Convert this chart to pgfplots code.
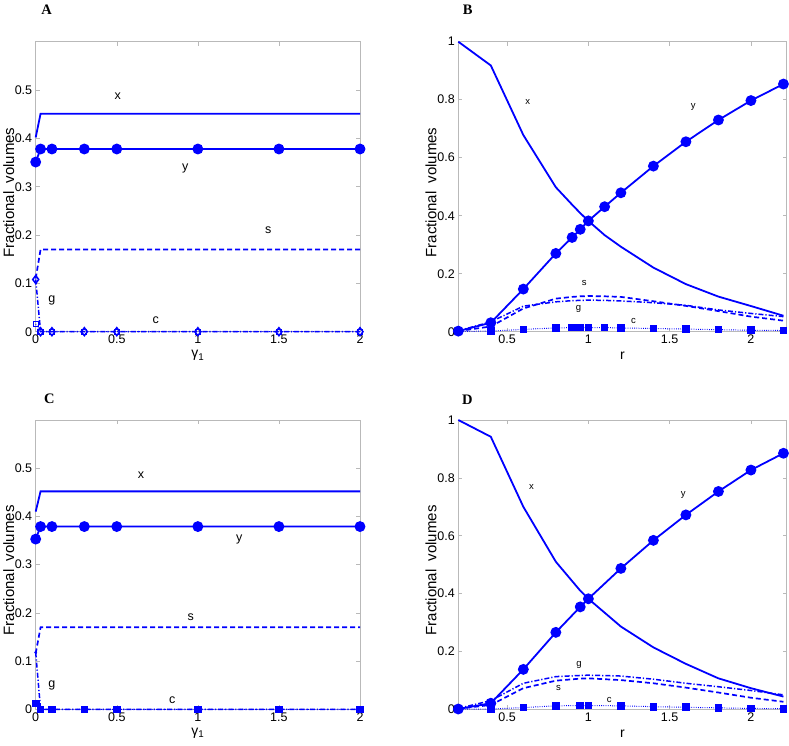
\documentclass[border=0pt]{standalone}
\usepackage{pgfplots}
\pgfplotsset{compat=1.18}
\usepackage{fontspec}
\setmainfont{Liberation Sans}
\newfontfamily\timesfont{Liberation Serif}
\definecolor{mb}{rgb}{0,0,1}
\tikzset{
 lab/.style={font=\fontsize{12.5}{12.5}\selectfont},
 labs/.style={font=\fontsize{9.5}{9.5}\selectfont},
}
\pgfplotsset{
 panel/.style={scale only axis, axis line style={gray!55, line width=0.5pt},
   tick style={gray!55, line width=0.5pt}, major tick length=4pt, tick align=inside,
   xtick pos=both, ytick pos=both,
   ticklabel style={font=\fontsize{12.5}{12.5}\selectfont, black},
   yticklabel style={/pgf/number format/fixed},
   /pgf/number format/assume math mode=true,
   ylabel={Fractional\hspace{0.55em}volumes},
   every axis y label/.style={at={(axis description cs:-0.083,0.48)}, rotate=90, anchor=center, font=\fontsize{15}{15}\selectfont},
   every axis x label/.style={at={(axis description cs:0.5,0)}, anchor=center, yshift=-24pt, font=\fontsize{14}{14}\selectfont},
   clip=false},
 stx/.style={mb, line width=1.8pt, mark=none},
 sty/.style={mb, line width=1.8pt, mark=*, mark size=4.5pt, mark options={solid}},
 sts/.style={mb, line width=1.7pt, dash pattern=on 5pt off 3pt, mark=none},
 stg/.style={mb, line width=1.5pt, dash pattern=on 5pt off 2pt on 1.2pt off 2pt},
 stc/.style={mb, line width=1pt, dash pattern=on 0.8pt off 1.4pt},
}
\begin{document}
\begin{tikzpicture}
\path[use as bounding box] (0pt,0pt) rectangle (789pt,745pt);
% ---------- A ----------
\begin{axis}[panel, at={(35.7pt,413.3pt)}, anchor=south west, width=324.3pt, height=290pt,
  xmin=0, xmax=2, ymin=0, ymax=0.6, xtick={0,0.5,1,1.5,2}, ytick={0,0.1,0.2,0.3,0.4,0.5},
  xlabel={γ\textsubscript{1}}]
\addplot[stx] coordinates {(0,0.402)(0.03,0.451)(0.1,0.451)(0.3,0.451)(0.5,0.451)(1,0.451)(1.5,0.451)(2,0.451)};
\addplot[sty] coordinates {(0,0.351)(0.03,0.378)(0.1,0.378)(0.3,0.378)(0.5,0.378)(1,0.378)(1.5,0.378)(2,0.378)};
\addplot[sts] coordinates {(0,0.110)(0.03,0.170)(0.1,0.170)(0.3,0.170)(0.5,0.170)(1,0.170)(1.5,0.170)(2,0.170)};
\addplot[stc, mark=square, mark size=2.6pt, mark options={solid, line width=1pt}] coordinates {(0,0.016)(0.03,0)(0.1,0)(0.3,0)(0.5,0)(1,0)(1.5,0)(2,0)};
\addplot[stg, mark=diamond, mark size=4pt, mark options={solid, line width=1.5pt}] coordinates {(0,0.108)(0.03,0)(0.1,0)(0.3,0)(0.5,0)(1,0)(1.5,0)(2,0)};
\node[lab] at (axis cs:0.506,0.488) {x};
\node[lab] at (axis cs:0.923,0.337) {y};
\node[lab] at (axis cs:1.434,0.211) {s};
\node[lab] at (axis cs:0.099,0.065) {g};
\node[lab] at (axis cs:0.74,0.023) {c};
\end{axis}
% ---------- B ----------
\begin{axis}[panel, at={(458.3pt,413.3pt)}, anchor=south west, width=328.4pt, height=290pt,
  xmin=0.2, xmax=2.22, ymin=0, ymax=1, xtick={0.5,1,1.5,2}, ytick={0,0.2,0.4,0.6,0.8,1},
  xlabel={r}]
\addplot[stx] coordinates {(0.2,1.0)(0.4,0.918)(0.6,0.678)(0.8,0.498)(0.9,0.438)(0.95,0.409)(1,0.382)(1.1,0.333)(1.2,0.293)(1.4,0.221)(1.6,0.164)(1.8,0.121)(2,0.0885)(2.2,0.055)};
\addplot[sts] coordinates {(0.2,0.002)(0.4,0.018)(0.6,0.080)(0.8,0.114)(0.9,0.120)(0.95,0.122)(1,0.123)(1.1,0.122)(1.2,0.120)(1.4,0.105)(1.6,0.089)(1.8,0.071)(2,0.052)(2.2,0.038)};
\addplot[stg] coordinates {(0.2,0.003)(0.4,0.034)(0.6,0.088)(0.8,0.103)(0.9,0.107)(0.95,0.108)(1,0.109)(1.1,0.108)(1.2,0.106)(1.4,0.100)(1.6,0.091)(1.8,0.075)(2,0.063)(2.2,0.052)};
\addplot[stc, mark=square*, mark size=3.3pt, mark options={solid}] coordinates {(0.2,0.001)(0.4,0.002)(0.6,0.008)(0.8,0.013)(0.9,0.014)(0.95,0.014)(1,0.014)(1.1,0.014)(1.2,0.013)(1.4,0.011)(1.6,0.009)(1.8,0.007)(2,0.005)(2.2,0.004)};
\addplot[sty] coordinates {(0.2,0.002)(0.4,0.031)(0.6,0.147)(0.8,0.270)(0.9,0.325)(0.95,0.353)(1,0.382)(1.1,0.431)(1.2,0.479)(1.4,0.571)(1.6,0.655)(1.8,0.730)(2,0.797)(2.2,0.854)};
\node[labs] at (axis cs:0.627,0.793) {x};
\node[labs] at (axis cs:1.645,0.774) {y};
\node[labs] at (axis cs:0.974,0.169) {s};
\node[labs] at (axis cs:0.939,0.077) {g};
\node[labs] at (axis cs:1.277,0.038) {c};
\end{axis}
% ---------- C ----------
\begin{axis}[panel, at={(35.7pt,35.7pt)}, anchor=south west, width=324.3pt, height=289.3pt,
  xmin=0, xmax=2, ymin=0, ymax=0.6, xtick={0,0.5,1,1.5,2}, ytick={0,0.1,0.2,0.3,0.4,0.5},
  xlabel={γ\textsubscript{1}}]
\addplot[stx] coordinates {(0,0.410)(0.03,0.452)(0.1,0.452)(0.3,0.452)(0.5,0.452)(1,0.452)(1.5,0.452)(2,0.452)};
\addplot[sty] coordinates {(0,0.353)(0.03,0.379)(0.1,0.379)(0.3,0.379)(0.5,0.379)(1,0.379)(1.5,0.379)(2,0.379)};
\addplot[sts] coordinates {(0,0.116)(0.03,0.170)(0.1,0.170)(0.3,0.170)(0.5,0.170)(1,0.170)(1.5,0.170)(2,0.170)};
\addplot[stg, mark=diamond, mark size=1.5pt, mark options={solid, line width=0.6pt}] coordinates {(0,0.118)(0.03,0)(0.1,0)(0.3,0)(0.5,0)(1,0)(1.5,0)(2,0)};
\addplot[stc, mark=square*, mark size=3.3pt, mark options={solid}] coordinates {(0,0.012)(0.03,0)(0.1,0)(0.3,0)(0.5,0)(1,0)(1.5,0)(2,0)};
\node[lab] at (axis cs:0.649,0.486) {x};
\node[lab] at (axis cs:1.256,0.353) {y};
\node[lab] at (axis cs:0.956,0.192) {s};
\node[lab] at (axis cs:0.099,0.050) {g};
\node[lab] at (axis cs:0.842,0.019) {c};
\end{axis}
% ---------- D ----------
\begin{axis}[panel, at={(458.3pt,35.7pt)}, anchor=south west, width=328.4pt, height=289.3pt,
  xmin=0.2, xmax=2.22, ymin=0, ymax=1, xtick={0.5,1,1.5,2}, ytick={0,0.2,0.4,0.6,0.8,1},
  xlabel={r}]
\addplot[stx] coordinates {(0.2,1.0)(0.4,0.942)(0.6,0.700)(0.8,0.510)(0.95,0.410)(1,0.382)(1.2,0.286)(1.4,0.214)(1.6,0.157)(1.8,0.107)(2,0.073)(2.2,0.044)};
\addplot[sts] coordinates {(0.2,0.002)(0.4,0.015)(0.6,0.073)(0.8,0.099)(0.95,0.106)(1,0.107)(1.2,0.101)(1.4,0.090)(1.6,0.075)(1.8,0.058)(2,0.040)(2.2,0.026)};
\addplot[stg] coordinates {(0.2,0.003)(0.4,0.030)(0.6,0.090)(0.8,0.113)(0.95,0.117)(1,0.118)(1.2,0.115)(1.4,0.104)(1.6,0.090)(1.8,0.078)(2,0.065)(2.2,0.050)};
\addplot[stc, mark=square*, mark size=3.3pt, mark options={solid}] coordinates {(0.2,0.001)(0.4,0.001)(0.6,0.006)(0.8,0.012)(0.95,0.013)(1,0.013)(1.2,0.012)(1.4,0.009)(1.6,0.007)(1.8,0.005)(2,0.003)(2.2,0.002)};
\addplot[sty] coordinates {(0.2,0.001)(0.4,0.021)(0.6,0.138)(0.8,0.266)(0.95,0.354)(1,0.382)(1.2,0.487)(1.4,0.584)(1.6,0.672)(1.8,0.753)(2,0.827)(2.2,0.885)};
\node[labs] at (axis cs:0.650,0.769) {x};
\node[labs] at (axis cs:1.584,0.741) {y};
\node[labs] at (axis cs:0.943,0.153) {g};
\node[labs] at (axis cs:0.816,0.073) {s};
\node[labs] at (axis cs:1.129,0.032) {c};
\end{axis}
% panel letters
\node[font=\timesfont\bfseries\fontsize{14.5}{14.5}\selectfont] at (46.7pt,735.7pt) {A};
\node[font=\timesfont\bfseries\fontsize{14.5}{14.5}\selectfont] at (467.7pt,735.7pt) {B};
\node[font=\timesfont\bfseries\fontsize{14.5}{14.5}\selectfont] at (49.3pt,346.7pt) {C};
\node[font=\timesfont\bfseries\fontsize{14.5}{14.5}\selectfont] at (467.3pt,345pt) {D};
\end{tikzpicture}
\end{document}
